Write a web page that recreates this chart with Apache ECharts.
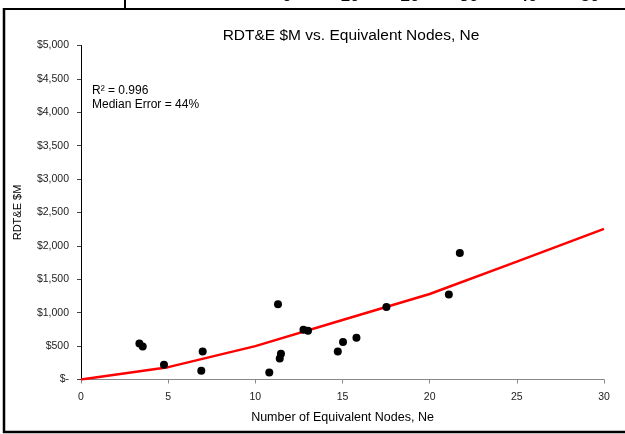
<!DOCTYPE html>
<html>
<head>
<meta charset="utf-8">
<script src="https://cdn.jsdelivr.net/npm/echarts@6/dist/echarts.min.js"></script>
<style>html,body{margin:0;padding:0;background:#fff;}#c{width:625px;height:434px;}</style>
</head>
<body>
<div id="c"></div>
<script>
// Observed data points (Ne, RDT&E $M)
const scatterX = [3.35, 3.54, 4.76, 6.98, 6.9, 10.8, 11.3, 11.4, 11.47, 12.76, 13.02, 14.73, 15.03, 15.8, 17.52, 21.1, 21.73];
const scatterY = [540, 495, 220, 420, 130, 105, 1126, 315, 385, 746, 730, 420, 560, 626, 1086, 1271, 1892];
// Fitted curve
const fitX = [0, 5, 10, 15, 20, 25, 30];
const fitY = [0, 185, 500, 890, 1280, 1765, 2255];
// Cropped axis labels of the chart above
const topLabels = ['0', '10', '20', '30', '40', '50'];

const chart = echarts.init(document.getElementById('c'));
const font = 'Liberation Sans, Arial, sans-serif';
const topX = [287, 350, 410, 469, 528, 590];

chart.setOption({
  animation: false,
  backgroundColor: '#fff',
  title: {
    text: 'RDT&E $M vs. Equivalent Nodes, Ne',
    left: 346, top: 23, textAlign: 'center',
    textStyle: { fontFamily: font, fontSize: 15.5, fontWeight: 'normal', color: '#000' }
  },
  grid: { left: 81, right: 21, top: 45.5, bottom: 54.5 },
  xAxis: {
    type: 'value', min: 0, max: 30, interval: 5,
    name: 'Number of Equivalent Nodes, Ne', nameLocation: 'middle', nameGap: 32,
    nameTextStyle: { fontFamily: font, fontSize: 12.5, color: '#000' },
    axisLine: { show: true, lineStyle: { color: '#888', width: 1 } },
    axisTick: { show: true, length: 4, lineStyle: { color: '#888' } },
    axisLabel: { fontFamily: font, fontSize: 10.5, color: '#222', margin: 12 },
    splitLine: { show: false }
  },
  yAxis: {
    type: 'value', min: 0, max: 5000, interval: 500,
    name: 'RDT&E $M', nameLocation: 'middle', nameGap: 58, nameRotate: 90,
    nameTextStyle: { fontFamily: font, fontSize: 11, color: '#000' },
    axisLine: { show: true, lineStyle: { color: '#000', width: 1 } },
    axisTick: { show: true, length: 4, lineStyle: { color: '#444' } },
    axisLabel: {
      fontFamily: font, fontSize: 10.5, color: '#222', margin: 12,
      formatter: v => v === 0 ? '$-' : '$' + v.toLocaleString('en-US')
    },
    splitLine: { show: false }
  },
  series: [
    {
      type: 'line', data: fitX.map((x, i) => [x, fitY[i]]),
      showSymbol: false, lineStyle: { color: '#ff0000', width: 2.5 }, z: 2
    },
    {
      type: 'scatter', data: scatterX.map((x, i) => [x, scatterY[i]]),
      symbol: 'circle', symbolSize: 8, itemStyle: { color: '#000', opacity: 1 }, z: 3
    }
  ],
  graphic: [
    { type: 'line', shape: { x1: 3, y1: 9, x2: 625, y2: 9 }, style: { stroke: '#000', lineWidth: 2 } },
    { type: 'line', shape: { x1: 4, y1: 8, x2: 4, y2: 433 }, style: { stroke: '#000', lineWidth: 2.5 } },
    { type: 'line', shape: { x1: 3, y1: 432, x2: 625, y2: 432 }, style: { stroke: '#000', lineWidth: 2.5 } },
    { type: 'line', shape: { x1: 125, y1: 0, x2: 125, y2: 9 }, style: { stroke: '#000', lineWidth: 2 } },
    { type: 'text', left: 92, top: 84, style: { text: 'R² = 0.996\nMedian Error = 44%', font: '12px ' + font, fill: '#000', lineHeight: 14 } }
  ].concat(topLabels.map((t, i) => ({
    type: 'text', x: topX[i], y: 5,
    style: { text: t, font: 'bold 17px ' + font, fill: '#000', textAlign: 'center', textVerticalAlign: 'bottom' }
  })))
});
</script>
</body>
</html>
